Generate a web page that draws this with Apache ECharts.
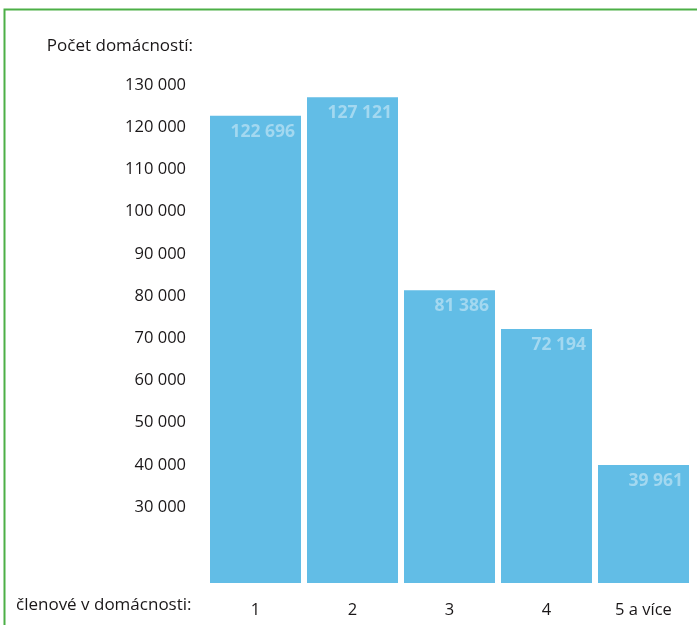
<!DOCTYPE html>
<html>
<head>
<meta charset="utf-8">
<script src="https://cdn.jsdelivr.net/npm/echarts@6/dist/echarts.min.js"></script>
<style>
html,body{margin:0;padding:0;background:#fff;}
#chart{width:697px;height:625px;}
</style>
</head>
<body>
<div id="chart"></div>
<script>
const categories = ['1', '2', '3', '4', '5 a více'];
const households = [122696, 127121, 81386, 72194, 39961];
const tickValues = [30000, 40000, 50000, 60000, 70000, 80000, 90000, 100000, 110000, 120000, 130000];
const yTitle = 'Počet domácností:';
const xTitle = 'členové v domácnosti:';

function fmt(v) {
  return String(v).replace(/\B(?=(\d{3})+(?!\d))/g, ' ');
}

const FONT = '"Open Sans", "Noto Sans", sans-serif';
const chart = echarts.init(document.getElementById('chart'), null, {renderer: 'canvas'});
chart.setOption({
  backgroundColor: '#ffffff',
  animation: false,
  grid: {left: 207, width: 485, top: 85, bottom: 42, containLabel: false},
  xAxis: {
    type: 'category',
    data: categories,
    axisLine: {show: false},
    axisTick: {show: false},
    axisLabel: {color: '#1a1718', fontSize: 16.5, fontFamily: FONT, margin: 19}
  },
  yAxis: {
    type: 'value',
    min: 12000,
    max: 130000,
    startValue: 12000,
    splitLine: {show: false},
    axisLine: {show: false},
    axisTick: {show: false},
    axisLabel: {
      customValues: tickValues,
      color: '#1a1718',
      fontSize: 16.5,
      fontFamily: FONT,
      margin: 21,
      formatter: v => fmt(v)
    }
  },
  series: [{
    type: 'bar',
    data: households,
    barWidth: 91,
    clip: true,
    itemStyle: {color: '#62bde6'},
    label: {
      show: true,
      position: 'insideTopRight',
      distance: 6,
      offset: [0, 1],
      color: '#a3d8f0',
      fontWeight: 'bold',
      fontSize: 17.5,
      fontFamily: FONT,
      formatter: p => fmt(p.value)
    }
  }],
  graphic: [
    {type: 'polyline', shape: {points: [[4.5, 700], [4.5, 9.5], [800, 9.5]]},
     style: {stroke: '#4caf47', lineWidth: 2, fill: null}},
    {type: 'text', right: 697 - 193, top: 38,
     style: {text: yTitle, fill: '#1a1718', font: '17px ' + FONT, textAlign: 'right'}},
    {type: 'text', left: 16, top: 597,
     style: {text: xTitle, fill: '#1a1718', font: '17px ' + FONT}}
  ]
});
</script>
</body>
</html>
